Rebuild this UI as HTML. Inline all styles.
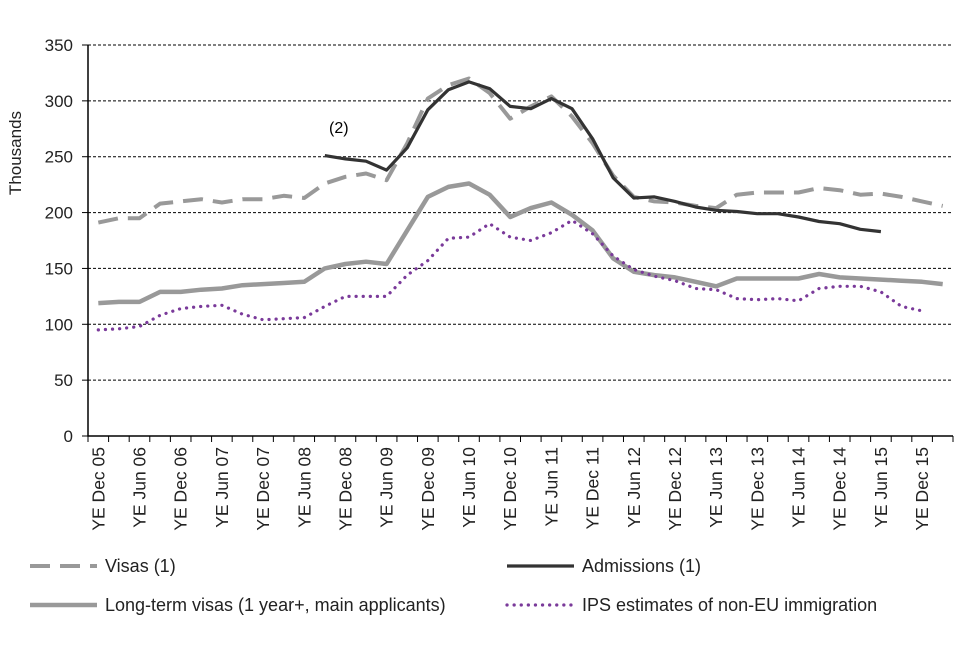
<!DOCTYPE html>
<html><head><meta charset="utf-8"><style>
body{margin:0;background:#fff;}
svg{font-family:"Liberation Sans",Arial,sans-serif;}
</style></head><body>
<svg id="c" width="960" height="640" xmlns="http://www.w3.org/2000/svg"></svg>
<script>
const categories=["YE Dec 05","YE Mar 06","YE Jun 06","YE Sep 06","YE Dec 06","YE Mar 07","YE Jun 07","YE Sep 07","YE Dec 07","YE Mar 08","YE Jun 08","YE Sep 08","YE Dec 08","YE Mar 09","YE Jun 09","YE Sep 09","YE Dec 09","YE Mar 10","YE Jun 10","YE Sep 10","YE Dec 10","YE Mar 11","YE Jun 11","YE Sep 11","YE Dec 11","YE Mar 12","YE Jun 12","YE Sep 12","YE Dec 12","YE Mar 13","YE Jun 13","YE Sep 13","YE Dec 13","YE Mar 14","YE Jun 14","YE Sep 14","YE Dec 14","YE Mar 15","YE Jun 15","YE Sep 15","YE Dec 15","YE Mar 16"];
const visas=[191,195,195,208,210,212,209,212,212,215,213,226,232,235,229,262,302,314,320,307,284,295,304,286,262,233,214,210,209,206,204,216,218,218,218,222,220,216,217,214,210,206];
const admissions=[null,null,null,null,null,null,null,null,null,null,null,251,248,246,238,258,292,310,317,311,295,293,302,293,266,231,213,214,210,205,202,201,199,199,196,192,190,185,183];
const longTerm=[119,120,120,129,129,131,132,135,136,137,138,150,154,156,154,184,214,223,226,216,196,204,209,198,184,159,147,144,142,138,134,141,141,141,141,145,142,141,140,139,138,136];
const ips=[95,96,98,108,114,116,117,109,104,105,106,116,125,125,125,144,157,177,178,190,178,175,182,193,181,161,149,143,139,132,131,123,122,123,121,132,134,134,129,116,112];
const yTicks=[0,50,100,150,200,250,300,350];

const NS="http://www.w3.org/2000/svg";
const svg=document.getElementById('c');
const X0=88,X1=953,Y0=436,Y1=45,YMAX=350;
const cw=(X1-X0)/categories.length;
const xs=i=>X0+cw*(i+0.5);
const ys=v=>Y0-(v/YMAX)*(Y0-Y1);
function mk(t,a,p){const e=document.createElementNS(NS,t);for(const k in a)e.setAttribute(k,a[k]);(p||svg).appendChild(e);return e;}

yTicks.forEach(v=>{
  if(v>0){const g=mk('line',{x1:X0,x2:X1,y1:ys(v),y2:ys(v),stroke:'#000','stroke-width':1,'stroke-dasharray':'3,2'});
  
  }
  const t=mk('text',{x:X0-15,y:ys(v)+6,'text-anchor':'end','font-size':17,fill:'#222'});
  t.textContent=v;
  
  
});
const ax=mk('path',{d:`M${X0} ${Y1}V${Y0}H${X1}`,stroke:'#000','stroke-width':1.5,fill:'none'});


yTicks.forEach(v=>{mk('line',{x1:X0-6,x2:X0,y1:ys(v),y2:ys(v),stroke:'#000'});});
for(let i=0;i<=categories.length;i++){mk('line',{x1:X0+cw*i,x2:X0+cw*i,y1:Y0,y2:Y0+6,stroke:'#000'});}
categories.forEach((c,i)=>{
  if(i%2)return;
  const t=mk('text',{x:0,y:0,'text-anchor':'end','font-size':17.5,fill:'#222',transform:`translate(${xs(i)+6},${Y0+11}) rotate(-90)`});
  t.textContent=c;
  
  
});
const yt=mk('text',{x:0,y:0,'text-anchor':'middle','font-size':17,fill:'#222',transform:'translate(21,153) rotate(-90)'});
yt.textContent='Thousands';



function line(data,style,name){
  let d='';let pen=false;
  data.forEach((v,i)=>{if(v==null){pen=false;return;}d+=(pen?'L':'M')+xs(i).toFixed(1)+' '+ys(v).toFixed(1);pen=true;});
  const p=mk('path',Object.assign({d:d,fill:'none','stroke-linejoin':'round'},style));
  
  
}
line(longTerm,{stroke:'#999','stroke-width':4.5},'series-long-term-visas');
line(ips,{stroke:'#7a3a9a','stroke-width':3.2,'stroke-dasharray':'0.1,7','stroke-linecap':'round'},'series-ips-estimates');
line(visas,{stroke:'#999','stroke-width':4,'stroke-dasharray':'20,10'},'series-visas');
line(admissions,{stroke:'#333','stroke-width':3.2},'series-admissions');

const n2=mk('text',{x:329,y:133,'font-size':16});
n2.textContent='(2)';



function leg(x,y,style,label,name){
  const g=mk('g',{});
  
  
  mk('line',Object.assign({x1:x,x2:x+67,y1:y,y2:y},style),g);
  const t=mk('text',{x:x+75,y:y+6,'font-size':18,fill:'#222'},g);t.textContent=label;
}
leg(30,566,{stroke:'#999','stroke-width':4,'stroke-dasharray':'20,10'},'Visas (1)','legend-visas');
leg(507,566,{stroke:'#333','stroke-width':3.2},'Admissions (1)','legend-admissions');
leg(30,605,{stroke:'#999','stroke-width':4.5},'Long-term visas (1 year+, main applicants)','legend-long-term-visas');
leg(507,605,{stroke:'#7a3a9a','stroke-width':3.2,'stroke-dasharray':'0.1,7','stroke-linecap':'round'},'IPS estimates of non-EU immigration','legend-ips');
</script>
</body></html>
